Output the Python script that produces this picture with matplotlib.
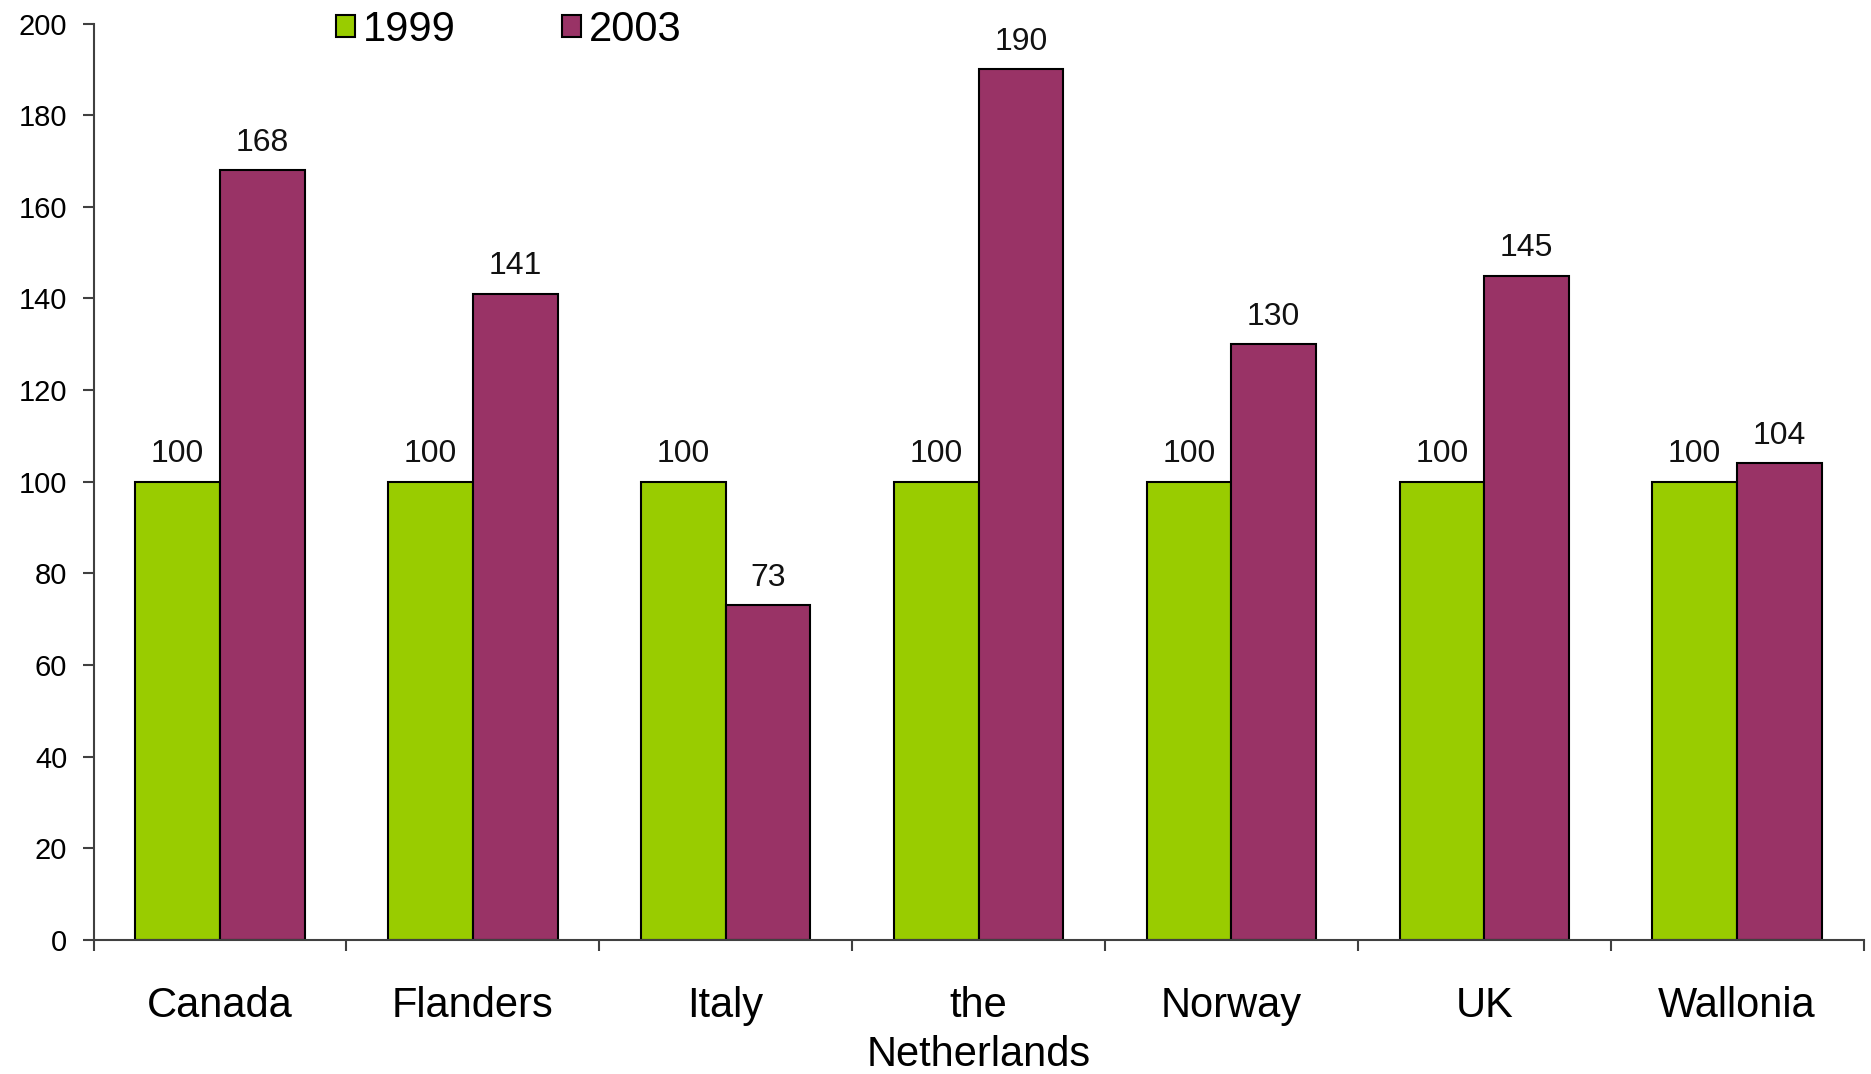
import matplotlib
matplotlib.use("Agg")
import matplotlib.pyplot as plt
import numpy as np

categories = ["Canada", "Flanders", "Italy", "the\nNetherlands", "Norway", "UK", "Wallonia"]
series_names = ["1999", "2003"]
values_1999 = [100, 100, 100, 100, 100, 100, 100]
values_2003 = [168, 141, 73, 190, 130, 145, 104]
yticks = [0, 20, 40, 60, 80, 100, 120, 140, 160, 180, 200]

plt.rcParams['font.family'] = ['Liberation Sans', 'DejaVu Sans']

fig = plt.figure(figsize=(18.71, 10.74), dpi=100)
ax = fig.add_axes([0.050, 0.125, 0.946, 0.853])

x = np.arange(len(categories))
w = 0.335
axis_col = "#404040"
b1 = ax.bar(x - w / 2, values_1999, w, color="#99CC00", edgecolor="black", linewidth=1.5, label=series_names[0])
b2 = ax.bar(x + w / 2, values_2003, w, color="#993366", edgecolor="black", linewidth=1.5, label=series_names[1])

for bars in (b1, b2):
    for r in bars:
        ax.annotate(f"{int(r.get_height())}", (r.get_x() + r.get_width() / 2, r.get_height()),
                    xytext=(0, 9), textcoords="offset points", ha="center", va="bottom",
                    fontsize=23, color="#111111")

ax.set_xlim(-0.5, len(categories) - 0.5)
ax.set_ylim(0, 200)
ax.set_yticks(yticks)
ax.set_yticklabels([str(v) for v in yticks], fontsize=21)
ax.set_xticks(x)
ax.set_xticklabels(categories, fontsize=30, linespacing=1.3)
ax.set_xticks(np.arange(len(categories) + 1) - 0.5, minor=True)
ax.tick_params(axis="x", which="major", length=0, pad=33)
ax.tick_params(axis="x", which="minor", length=8, width=1.5, color=axis_col, direction="out")
ax.tick_params(axis="y", length=8, width=1.5, color=axis_col, pad=11)

for s in ("top", "right"):
    ax.spines[s].set_visible(False)
for s in ("left", "bottom"):
    ax.spines[s].set_color(axis_col)
    ax.spines[s].set_linewidth(1.5)

leg = fig.legend(handles=[b1, b2], labels=series_names, loc="upper left", bbox_to_anchor=(0.164, 1.018),
                 ncol=2, frameon=False, fontsize=30, handlelength=0.45, handleheight=0.45,
                 handletextpad=0.2, columnspacing=2.55, borderpad=0.2)

fig.savefig("out.png", dpi=100)
